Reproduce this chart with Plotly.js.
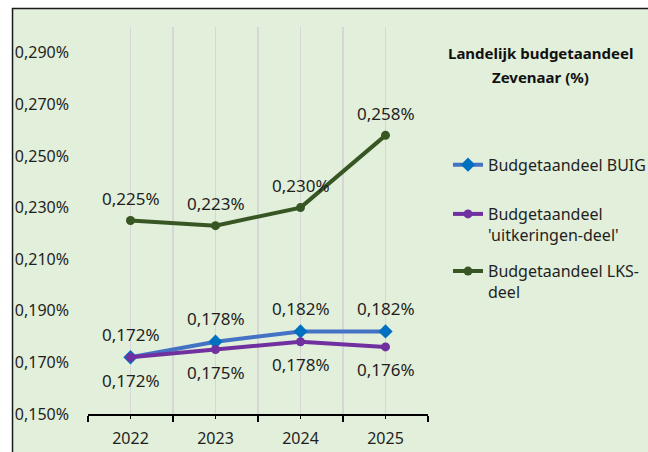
<!DOCTYPE html>
<html>
<head>
<meta charset="utf-8">
<script src="https://cdn.plot.ly/plotly-3.0.1.min.js"></script>
<style>html,body{margin:0;padding:0;background:#fff;}#chart{width:648px;height:452px;}</style>
</head>
<body>
<div id="chart"></div>
<script>
var years = [2022, 2023, 2024, 2025];
var buig = [0.172, 0.178, 0.182, 0.182];
var uitkeringen = [0.172, 0.175, 0.178, 0.176];
var lks = [0.225, 0.223, 0.230, 0.258];
var seriesNames = ["Budgetaandeel BUIG", "Budgetaandeel<br>'uitkeringen-deel'", "Budgetaandeel LKS-<br>deel"];
var titleLines = ["Landelijk budgetaandeel", "Zevenaar (%)"];

var FONT = "Noto Sans, Open Sans, sans-serif";
var TXT = "#1f1f1f";

function fmt(v) { return v.toFixed(3).replace('.', ',') + '%'; }

var traces = [
  {x: years, y: buig, name: seriesNames[0], mode: 'lines+markers', legend: 'legend',
   line: {color: '#4472C4', width: 4}, marker: {symbol: 'diamond', size: 11, color: '#0070C0'}},
  {x: years, y: uitkeringen, name: seriesNames[1], mode: 'lines+markers', legend: 'legend2',
   line: {color: '#7030A0', width: 4}, marker: {symbol: 'circle', size: 9, color: '#7030A0'}},
  {x: years, y: lks, name: seriesNames[2], mode: 'lines+markers', legend: 'legend3',
   line: {color: '#375623', width: 4}, marker: {symbol: 'circle', size: 9, color: '#375623'}}
];

var annotations = [];
function addLabels(vals, shift) {
  for (var i = 0; i < years.length; i++) {
    annotations.push({x: years[i], y: vals[i], xref: 'x', yref: 'y', text: fmt(vals[i]),
      showarrow: false, yshift: shift, font: {family: FONT, size: 17, color: TXT}});
  }
}
addLabels(buig, 23);
addLabels(uitkeringen, -23);
addLabels(lks, 22);

annotations.push({xref: 'paper', yref: 'paper', x: 1.332, y: 0.9328, text: '<b>' + titleLines[0] + '</b>',
  showarrow: false, xanchor: 'center', yanchor: 'middle', font: {family: FONT, size: 15, color: '#111'}});
annotations.push({xref: 'paper', yref: 'paper', x: 1.332, y: 0.8708, text: '<b>' + titleLines[1] + '</b>',
  showarrow: false, xanchor: 'center', yanchor: 'middle', font: {family: FONT, size: 15, color: '#111'}});

function legendAt(y) {
  return {x: 1.0588, xanchor: 'left', y: y, yanchor: 'top', bgcolor: 'rgba(0,0,0,0)',
    font: {family: FONT, size: 16, color: TXT}, valign: 'top'};
}

var layout = {
  width: 648, height: 452,
  margin: {l: 88, r: 220, t: 27, b: 38, pad: 0, autoexpand: false},
  paper_bgcolor: '#ffffff',
  plot_bgcolor: 'rgba(0,0,0,0)',
  separators: ',.',
  font: {family: FONT, size: 16, color: TXT},
  showlegend: true,
  legend: legendAt(0.688),
  legend2: legendAt(0.5607),
  legend3: legendAt(0.413),
  xaxis: {
    range: [2021.5, 2025.5], tickmode: 'array', tickvals: years, ticktext: years.map(String),
    ticks: 'outside', ticklen: 3, tickwidth: 1.5, tickcolor: '#000',
    showgrid: true, gridcolor: '#D6D6D9', gridwidth: 1.5,
    showline: true, linecolor: '#000', linewidth: 1.5, zeroline: false,
    ticklabelstandoff: 6,
    minor: {tick0: 2021.5, dtick: 1, ticks: 'outside', ticklen: 6, tickwidth: 1.5, tickcolor: '#000',
      showgrid: true, gridcolor: '#D6D6D9', gridwidth: 1.5},
    tickfont: {family: FONT, size: 16, color: TXT}, fixedrange: true
  },
  yaxis: {
    range: [0.15, 0.30], tick0: 0.15, dtick: 0.02, tickformat: '.3f', ticksuffix: '%',
    showgrid: false, zeroline: false, showline: false, ticks: '',
    ticklabelstandoff: 18, tickfont: {family: FONT, size: 16, color: TXT}, fixedrange: true
  },
  shapes: [{type: 'rect', xref: 'paper', yref: 'paper', x0: -0.222, x1: 2.2, y0: -0.3, y1: 1.048,
    fillcolor: '#E2EFDA', line: {color: '#1a1a1a', width: 1.5}, layer: 'below'}],
  annotations: annotations
};

Plotly.newPlot('chart', traces, layout, {staticPlot: true, displayModeBar: false});
</script>
</body>
</html>
